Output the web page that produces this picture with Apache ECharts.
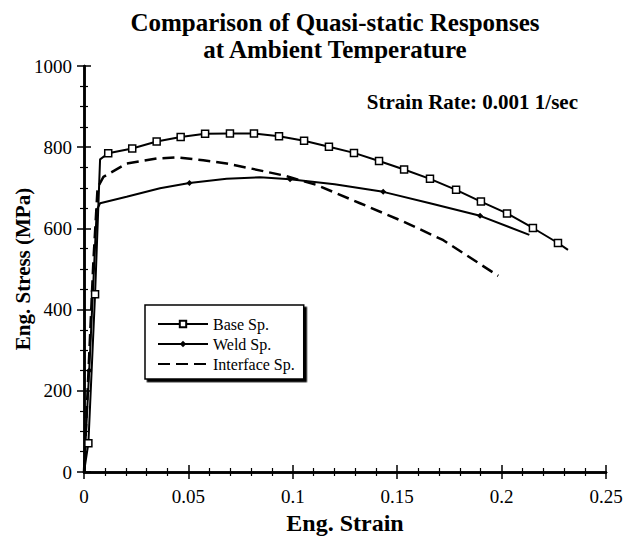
<!DOCTYPE html>
<html>
<head>
<meta charset="utf-8">
<script src="https://cdn.jsdelivr.net/npm/echarts@6/dist/echarts.min.js"></script>
<style>
  html, body { margin: 0; padding: 0; background: #fff; }
  #chart { width: 626px; height: 543px; }
</style>
</head>
<body>
<div id="chart"></div>
<script>
// Quasi-static tensile responses: engineering strain vs. engineering stress (MPa)
const baseStrain = [0, 0.0021, 0.0053, 0.0077, 0.0116, 0.0231, 0.0348, 0.0463, 0.0580, 0.0699, 0.0814, 0.0934, 0.1054, 0.1173, 0.1293, 0.1413, 0.1533, 0.1657, 0.1782, 0.1901, 0.2026, 0.2150, 0.2270, 0.2318];
const baseStress = [0, 71, 438, 770, 785, 797, 814, 825, 833, 834, 834, 827, 816, 801, 786, 766, 745, 722, 695, 666, 637, 601, 564, 547];
const baseMarked = [0, 1, 1, 0, 1, 1, 1, 1, 1, 1, 1, 1, 1, 1, 1, 1, 1, 1, 1, 1, 1, 1, 1, 0];

const weldStrain = [0, 0.0025, 0.0061, 0.0077, 0.0204, 0.0364, 0.0505, 0.0683, 0.0843, 0.0987, 0.1200, 0.1433, 0.1657, 0.1897, 0.2133];
const weldStress = [0, 250, 645, 662, 678, 699, 712, 722, 726, 721, 709, 690, 662, 631, 584];
const weldMarked = [0, 1, 0, 0, 0, 0, 1, 0, 0, 1, 0, 1, 0, 1, 0];

const ifaceStrain = [0, 0.0045, 0.0065, 0.0093, 0.0204, 0.0348, 0.0444, 0.0571, 0.0683, 0.0795, 0.0960, 0.1114, 0.1322, 0.1529, 0.1721, 0.1984];
const ifaceStress = [0, 520, 700, 727, 760, 772, 775, 768, 760, 748, 730, 707, 662, 617, 571, 483];

const seriesNames = ['Base Sp.', 'Weld Sp.', 'Interface Sp.'];
const xTicks = { min: 0, max: 0.25, step: 0.05 };
const yTicks = { min: 0, max: 1000, step: 200 };

const SERIF = 'Liberation Serif, DejaVu Serif, serif';

function points(xs, ys, marked) {
  return xs.map((x, i) => {
    const item = { value: [x, ys[i]] };
    if (marked && !marked[i]) item.symbol = 'none';
    return item;
  });
}

function fmtStrain(v) {
  if (v === 0) return '0';
  return String(parseFloat(v.toFixed(3)));
}

const frameAxisLine = { show: true, lineStyle: { color: '#000', width: 2.5 } };
const tickStyle = { show: true, inside: true, length: 7, lineStyle: { color: '#000', width: 1.5 } };

function xAxisDef(pos, showLabels) {
  return {
    type: 'value', position: pos,
    min: xTicks.min, max: xTicks.max, interval: xTicks.step,
    axisLine: frameAxisLine,
    axisTick: tickStyle,
    minorTick: { show: true, splitNumber: 5, length: 4, lineStyle: { color: '#000', width: 1.2 } },
    splitLine: { show: false },
    axisLabel: showLabels ? { show: true, margin: 15, color: '#000', fontFamily: SERIF, fontSize: 19, formatter: fmtStrain } : { show: false },
    name: showLabels ? 'Eng. Strain' : '',
    nameLocation: 'middle', nameGap: 39, nameMoveOverlap: false,
    nameTextStyle: { color: '#000', fontFamily: SERIF, fontSize: 24, fontWeight: 'bold' }
  };
}

function yAxisDef(pos, showLabels) {
  return {
    type: 'value', position: pos,
    min: yTicks.min, max: yTicks.max, interval: yTicks.step,
    axisLine: frameAxisLine,
    axisTick: tickStyle,
    minorTick: { show: true, splitNumber: 4, length: 4, lineStyle: { color: '#000', width: 1.2 } },
    splitLine: { show: false },
    axisLabel: showLabels ? { show: true, margin: 12, color: '#000', fontFamily: SERIF, fontSize: 19, formatter: v => String(v) } : { show: false },
    name: showLabels ? 'Eng. Stress (MPa)' : '',
    nameLocation: 'middle', nameGap: 51, nameMoveOverlap: false,
    nameTextStyle: { color: '#000', fontFamily: SERIF, fontSize: 21, fontWeight: 'bold' }
  };
}

const chart = echarts.init(document.getElementById('chart'), null, { renderer: 'svg' });

chart.setOption({
  animation: false,
  backgroundColor: '#fff',
  title: {
    text: 'Comparison of Quasi-static Responses\nat Ambient Temperature',
    left: 330, top: 4, textAlign: 'center',
    textStyle: { color: '#000', fontFamily: SERIF, fontSize: 25, fontWeight: 'bold', lineHeight: 27 }
  },
  grid: { left: 84, right: 20, top: 66, bottom: 71, containLabel: false, outerBoundsMode: 'none' },
  xAxis: [xAxisDef('bottom', true), xAxisDef('top', false)],
  yAxis: [yAxisDef('left', true), yAxisDef('right', false)],
  legend: {
    orient: 'vertical',
    left: 145, top: 305,
    data: [
      { name: seriesNames[0] },
      { name: seriesNames[1] },
      { name: seriesNames[2], itemStyle: { opacity: 0 } }
    ],
    itemWidth: 50, itemHeight: 8, itemGap: 4,
    padding: [11, 9, 7, 12],
    backgroundColor: '#fff',
    borderColor: '#000', borderWidth: 1.5,
    shadowColor: '#000', shadowBlur: 0, shadowOffsetX: 2.5, shadowOffsetY: 2.5,
    textStyle: { color: '#000', fontFamily: SERIF, fontSize: 16 }
  },
  graphic: [{
    type: 'text',
    right: 48, top: 91,
    style: { text: 'Strain Rate: 0.001 1/sec', fill: '#000', font: 'bold 21px ' + SERIF }
  }],
  series: [
    {
      name: seriesNames[0], type: 'line',
      data: points(baseStrain, baseStress, baseMarked),
      symbol: 'rect', symbolSize: 7, showSymbol: true,
      lineStyle: { color: '#000', width: 2 },
      itemStyle: { color: '#fff', borderColor: '#000', borderWidth: 1.5 },
      z: 3
    },
    {
      name: seriesNames[1], type: 'line',
      data: points(weldStrain, weldStress, weldMarked),
      symbol: 'diamond', symbolSize: 6, showSymbol: true,
      lineStyle: { color: '#000', width: 2 },
      itemStyle: { color: '#000', borderColor: '#000', borderWidth: 0 },
      z: 2
    },
    {
      name: seriesNames[2], type: 'line',
      data: points(ifaceStrain, ifaceStress, null),
      symbol: 'none', showSymbol: false,
      lineStyle: { color: '#000', width: 2.5, type: [12, 6] },
      itemStyle: { color: '#000' },
      z: 2
    }
  ]
});
</script>
</body>
</html>
